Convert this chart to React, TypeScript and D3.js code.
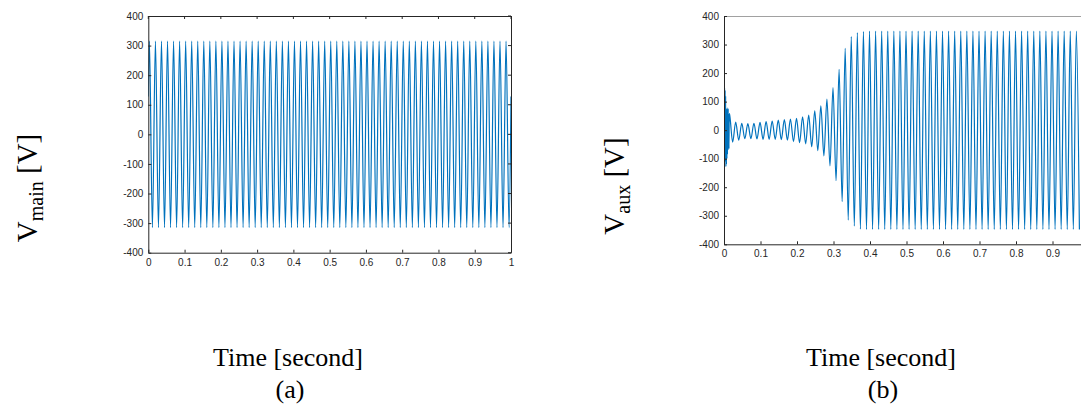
import { useEffect, useRef } from "react";
import * as d3 from "d3";

// one mains cycle at 60 Hz
const CYCLE = 1 / 60;

// (a) main winding voltage: peak / trough of every cycle
const mainPeaks = [
  315, 315, 315, 315, 315, 315, 315, 315, 315, 315,
  315, 315, 315, 315, 315, 315, 315, 315, 315, 315,
  315, 315, 315, 315, 315, 315, 315, 315, 315, 315,
  315, 315, 315, 315, 315, 315, 315, 315, 315, 315,
  315, 315, 315, 315, 315, 315, 315, 315, 315, 315,
  315, 315, 315, 315, 315, 315, 315, 315, 315, 315,
];
const mainTroughs = [
  -315, -315, -315, -315, -315, -315, -315, -315, -315, -315,
  -315, -315, -315, -315, -315, -315, -315, -315, -315, -315,
  -315, -315, -315, -315, -315, -315, -315, -315, -315, -315,
  -315, -315, -315, -315, -315, -315, -315, -315, -315, -315,
  -315, -315, -315, -315, -315, -315, -315, -315, -315, -315,
  -315, -315, -315, -315, -315, -315, -315, -315, -315, -315,
];
const mainFirstPeak = 0.003;
const mainStartEnd = [128, 128];

// (b) auxiliary winding voltage
const auxTransientT = [0, 0.0016, 0.0024, 0.0031, 0.0038, 0.0045, 0.0052, 0.0059, 0.0066, 0.0073,
  0.008, 0.0087, 0.0094, 0.0101, 0.0108, 0.0115, 0.0122, 0.0129, 0.0136, 0.0143,
  0.0153];
const auxTransientV = [0, 148, -40, 140, -110, 120, -128, 75, -120, 60,
  -100, 78, -85, 45, -70, 75, -50, 55, -65, 58,
  55];
const auxPeaks = [
  28, 24, 23, 24, 27, 30, 32, 35, 37, 39,
  41, 47, 53, 68, 85, 109, 149, 213, 287, 328,
  342, 346, 347, 347, 347, 347, 347, 347, 347, 347,
  347, 347, 347, 347, 347, 347, 347, 347, 347, 347,
  347, 347, 347, 347, 347, 347, 347, 347, 347, 347,
  347, 347, 347, 347, 347, 347, 347,
];
const auxTroughs = [
  -42, -35, -30, -30, -31, -32, -32, -32, -33, -35,
  -40, -44, -48, -58, -72, -90, -125, -177, -250, -315,
  -336, -347, -348, -348, -348, -348, -348, -348, -348, -348,
  -348, -348, -348, -348, -348, -348, -348, -348, -348, -348,
  -348, -348, -348, -348, -348, -348, -348, -348, -348, -348,
  -348, -348, -348, -348, -348, -348, -348, -348,
];
const auxFirstTrough = 0.0237;
const auxFirstPeak = 0.032;

const yTicks = [-400, -300, -200, -100, 0, 100, 200, 300, 400];
const xTicksA = [0, 0.1, 0.2, 0.3, 0.4, 0.5, 0.6, 0.7, 0.8, 0.9, 1];
const xTicksB = [0, 0.1, 0.2, 0.3, 0.4, 0.5, 0.6, 0.7, 0.8, 0.9];

type Pt = [number, number];

function mainPoints(): Pt[] {
  const pts: Pt[] = [[0, mainStartEnd[0]]];
  mainPeaks.forEach((v, i) => {
    pts.push([mainFirstPeak + i * CYCLE, v]);
    pts.push([mainFirstPeak + CYCLE / 2 + i * CYCLE, mainTroughs[i]]);
  });
  pts.push([1, mainStartEnd[1]]);
  return pts;
}

function auxPoints(): Pt[] {
  const pts: Pt[] = auxTransientT.map((t, i) => [t, auxTransientV[i]] as Pt);
  auxTroughs.forEach((v, i) => {
    pts.push([auxFirstTrough + i * CYCLE, v]);
    if (i < auxPeaks.length) pts.push([auxFirstPeak + i * CYCLE, auxPeaks[i]]);
  });
  return pts;
}

const AXIS = "#262626";

function Panel({ id, x0, x1, top, bottom, xTicks, pts, rightBorder }: {
  id: string; x0: number; x1: number; top: number; bottom: number;
  xTicks: number[]; pts: Pt[]; rightBorder: boolean;
}) {
  const ref = useRef<SVGGElement>(null);

  useEffect(() => {
    const g = d3.select(ref.current);
    g.selectAll("*").remove();

    const x = d3.scaleLinear().domain([0, 1]).range([x0, x1]);
    const y = d3.scaleLinear().domain([-400, 400]).range([bottom, top]);

    g.append("clipPath").attr("id", "clip-" + id)
      .append("rect").attr("x", x0).attr("y", top)
      .attr("width", x1 - x0).attr("height", bottom - top);

    const line = d3.line<Pt>().x(d => x(d[0])).y(d => y(d[1])).curve(d3.curveMonotoneX);
    g.append("path").datum(pts)
      .attr("clip-path", `url(#clip-${id})`)
      .attr("fill", "none").attr("stroke", "#0072BD").attr("stroke-width", 1.2)
      .attr("d", line);

    const fmt = (d: d3.NumberValue) => String(+d);

    const yAx = g.append("g").attr("transform", `translate(${x0},0)`)
      .call(d3.axisLeft(y).tickValues(yTicks).tickSizeInner(-3).tickSizeOuter(0).tickPadding(5).tickFormat(fmt));
    const xAx = g.append("g").attr("transform", `translate(0,${bottom})`)
      .call(d3.axisBottom(x).tickValues(xTicks).tickSizeInner(-3).tickSizeOuter(0).tickPadding(6).tickFormat(fmt));

    [yAx, xAx].forEach(ax => {
      ax.selectAll("path,line").attr("stroke", AXIS);
      ax.selectAll("text").attr("fill", AXIS)
        .style("font-family", "'Liberation Sans', Arial, sans-serif").style("font-size", "10px");
    });

    // box: top edge and (for a) right edge with inward ticks
    g.append("line").attr("x1", x0).attr("x2", x1).attr("y1", top + 0.5).attr("y2", top + 0.5)
      .attr("stroke", AXIS).attr("stroke-width", rightBorder ? 1 : 0.8)
      .attr("stroke-opacity", rightBorder ? 1 : 0.55);
    if (rightBorder) {
      g.append("line").attr("x1", x1 + 0.5).attr("x2", x1 + 0.5).attr("y1", top).attr("y2", bottom)
        .attr("stroke", AXIS);
      yTicks.forEach(t => {
        g.append("line").attr("x1", x1).attr("x2", x1 - 3).attr("y1", y(t)).attr("y2", y(t))
          .attr("stroke", AXIS);
      });
      xTicks.forEach(t => {
        g.append("line").attr("x1", x(t)).attr("x2", x(t)).attr("y1", top).attr("y2", top + 3)
          .attr("stroke", AXIS);
      });
    }
  }, [id, x0, x1, top, bottom, xTicks, pts, rightBorder]);

  return <g ref={ref} />;
}

const serif = "'Liberation Serif', 'Times New Roman', serif";

export default function App() {
  return (
    <svg width={1081} height={407} style={{ position: "fixed", left: 0, top: 0, background: "#fff" }}>
      <Panel id="a" x0={148.3} x1={511} top={16} bottom={252.7} xTicks={xTicksA} pts={mainPoints()} rightBorder={true} />
      <Panel id="b" x0={724} x1={1089} top={16} bottom={244.3} xTicks={xTicksB} pts={auxPoints()} rightBorder={false} />

      <text transform="translate(37,188) rotate(-90)" textAnchor="middle" fontFamily={serif} fontSize={29} fill="#000">
        V<tspan fontSize={20} dy={6}>main</tspan><tspan dy={-6}> [V]</tspan>
      </text>
      <text transform="translate(624,186) rotate(-90)" textAnchor="middle" fontFamily={serif} fontSize={29} fill="#000">
        V<tspan fontSize={20} dy={6}>aux</tspan><tspan dy={-6}> [V]</tspan>
      </text>

      <text x={288} y={366} textAnchor="middle" fontFamily={serif} fontSize={26} fill="#000">Time [second]</text>
      <text x={290} y={398} textAnchor="middle" fontFamily={serif} fontSize={26} fill="#000">(a)</text>
      <text x={881} y={366} textAnchor="middle" fontFamily={serif} fontSize={26} fill="#000">Time [second]</text>
      <text x={883} y={398} textAnchor="middle" fontFamily={serif} fontSize={26} fill="#000">(b)</text>
    </svg>
  );
}
